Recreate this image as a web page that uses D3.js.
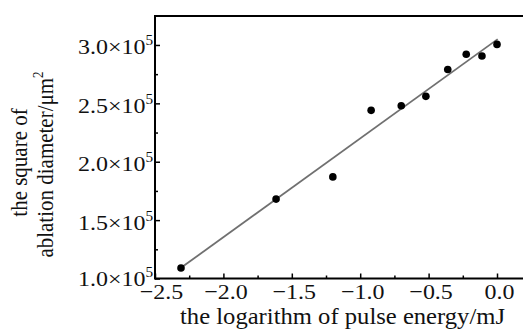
<!DOCTYPE html>
<html><head><meta charset="utf-8">
<script src="https://cdn.jsdelivr.net/npm/d3@7"></script>
<style>
body{margin:0;background:#fff;}
svg text{font-family:"Liberation Serif","Times New Roman",serif;fill:#111;}
</style></head>
<body><svg id="c" width="523" height="331"></svg>
<script>
const xData = [-2.31, -1.615, -1.20, -0.92, -0.70, -0.52, -0.36, -0.225, -0.11, 0.0];
const yData = [1.09, 1.68, 1.87, 2.44, 2.48, 2.56, 2.79, 2.92, 2.905, 3.005];
const fitX = [-2.30, 0.005];
const fitY = [1.10, 3.05];
const xTicks = [-2.5, -2.0, -1.5, -1.0, -0.5, 0.0];
const xMinor = [-2.25, -1.75, -1.25, -0.75, -0.25];
const yTicks = [1.0, 1.5, 2.0, 2.5, 3.0];
const yMinor = [1.25, 1.75, 2.25, 2.75];
const xTitle = "the logarithm of pulse energy/mJ";
const yTitle1 = "the square of";
const yTitle2 = "ablation diameter/μm";

const svg = d3.select("#c");
const L = 155, T = 16, B = 278.5, R = 523;
const SX = 1.09;
const x = d3.scaleLinear().domain([-2.5, 0.19]).range([L, R]);
const y = d3.scaleLinear().domain([1.0, 3.248]).range([B, T]);

// fit line
svg.append("line")
  .attr("x1", x(fitX[0])).attr("y1", y(fitY[0]))
  .attr("x2", x(fitX[1])).attr("y2", y(fitY[1]))
  .attr("stroke", "#707070").attr("stroke-width", 1.8);

// points
svg.append("g").selectAll("circle").data(xData).join("circle")
  .attr("cx", d => x(d)).attr("cy", (d, i) => y(yData[i]))
  .attr("r", 3.8).attr("fill", "#000");

// x axis
const gx = svg.append("g").attr("transform", `translate(0,${B})`);
gx.call(d3.axisBottom(x).tickValues(xTicks).tickSize(-5).tickFormat(""));
gx.select(".domain").attr("stroke", "#000").attr("stroke-width", 2).attr("d", `M${L},0H${R}`);
gx.selectAll(".tick line").attr("stroke", "#000").attr("stroke-width", 1.5);
gx.selectAll(".tick").append("text")
  .attr("transform", (d, i) => `translate(${i === 0 ? 6 : 2},20) scale(${SX},1)`)
  .attr("text-anchor", "middle").attr("font-size", 22).attr("fill", "#111")
  .text(d => d3.format(".1f")(d).replace("-", "−"));
const gxm = svg.append("g").attr("transform", `translate(0,${B})`);
gxm.call(d3.axisBottom(x).tickValues(xMinor).tickSize(-3).tickFormat(""));
gxm.select(".domain").remove();
gxm.selectAll(".tick line").attr("stroke", "#000").attr("stroke-width", 1.5);

// y axis
const gy = svg.append("g").attr("transform", `translate(${L},0)`);
gy.call(d3.axisLeft(y).tickValues(yTicks).tickSize(-5).tickFormat(""));
gy.select(".domain").attr("stroke", "#000").attr("stroke-width", 2).attr("d", `M0,${B+1}V${T}`);
gy.selectAll(".tick line").attr("stroke", "#000").attr("stroke-width", 1.5);
gy.selectAll(".tick").each(function(d, i) {
  const t = d3.select(this).append("text")
    .attr("transform", `translate(-2,${i === 0 ? 7 : 9}) scale(${SX},1)`)
    .attr("text-anchor", "end")
    .attr("font-size", 22).attr("fill", "#111");
  t.append("tspan").text(d3.format(".1f")(d) + "×10");
  t.append("tspan").attr("font-size", 14).attr("dy", -9).text("5");
});
const gym = svg.append("g").attr("transform", `translate(${L},0)`);
gym.call(d3.axisLeft(y).tickValues(yMinor).tickSize(-3).tickFormat(""));
gym.select(".domain").remove();
gym.selectAll(".tick line").attr("stroke", "#000").attr("stroke-width", 1.5);

// top border
svg.append("line").attr("x1", L - 1).attr("x2", R).attr("y1", T).attr("y2", T)
  .attr("stroke", "#000").attr("stroke-width", 2);

// titles
svg.append("text").attr("x", 342.5).attr("y", 324).attr("text-anchor", "middle")
  .attr("font-size", 23).attr("textLength", 325).attr("lengthAdjust", "spacingAndGlyphs")
  .text(xTitle);
svg.append("text").attr("transform", `translate(27,162.5) rotate(-90) scale(1,${SX})`)
  .attr("text-anchor", "middle").attr("font-size", 21).text(yTitle1);
const l2 = svg.append("text").attr("transform", `translate(53,164.5) rotate(-90) scale(1,${SX})`)
  .attr("text-anchor", "middle").attr("font-size", 21);
l2.append("tspan").text(yTitle2);
l2.append("tspan").attr("font-size", 13).attr("dy", -9).text("2");
</script></body></html>
